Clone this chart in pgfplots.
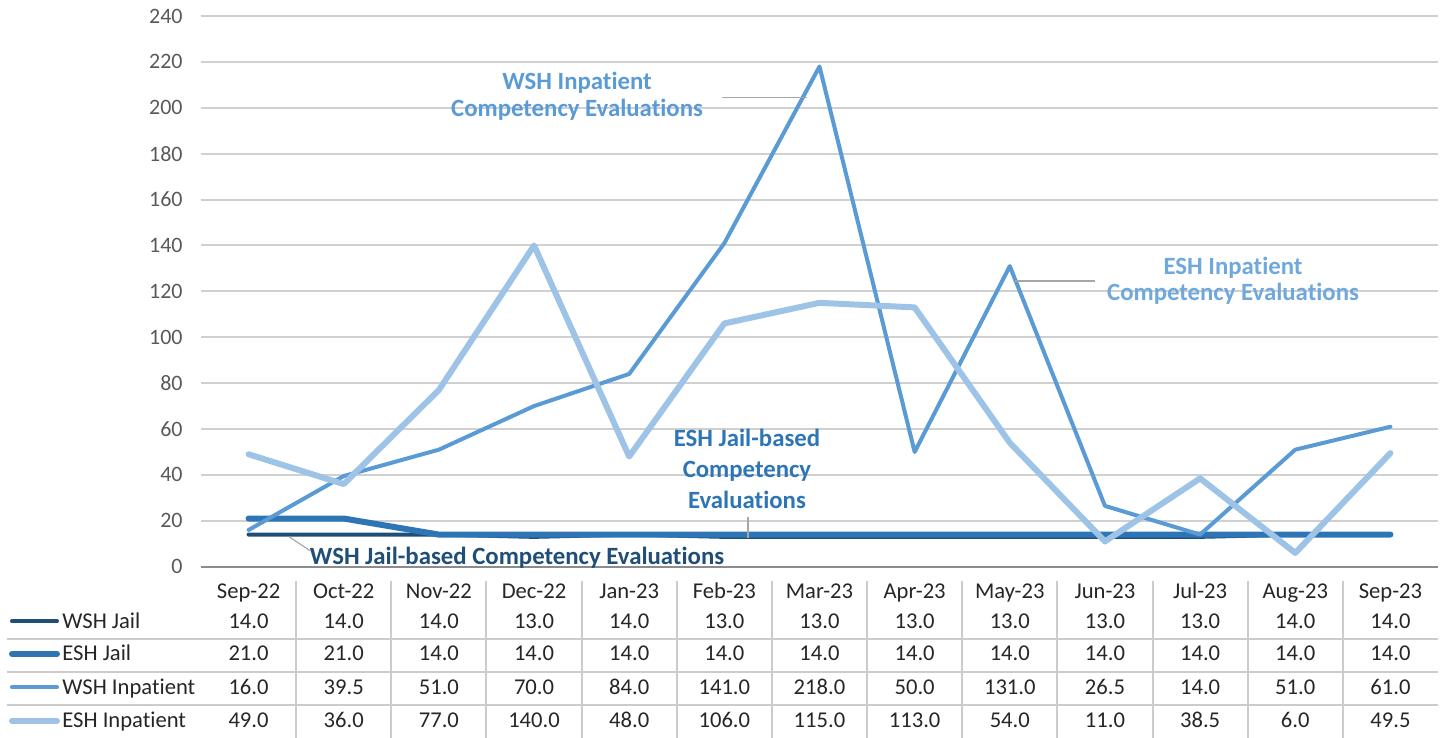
\documentclass[border=0pt]{standalone}
\usepackage{pgfplots}
\pgfplotsset{compat=1.18}
\usepackage{pgfplotstable}
\usepackage{fontspec}
\setmainfont{Carlito}[RawFeature={-liga;-clig;-calt;-dlig}]
\definecolor{wj}{HTML}{1F4E79}
\definecolor{ej}{HTML}{2E75B6}
\definecolor{wi}{HTML}{5B9BD5}
\definecolor{ei}{HTML}{9DC3E6}
\definecolor{eilab}{HTML}{6FA8DC}
\definecolor{gridc}{HTML}{D0D0D0}
\definecolor{tblc}{HTML}{CCCCCC}
\definecolor{tickc}{HTML}{595959}
\definecolor{leadc}{HTML}{A6A6A6}

\pgfplotstableread{
x m wj ej wi ei
0 Sep-22 14 21 16 49
1 Oct-22 14 21 39.5 36
2 Nov-22 14 14 51 77
3 Dec-22 13 14 70 140
4 Jan-23 14 14 84 48
5 Feb-23 13 14 141 106
6 Mar-23 13 14 218 115
7 Apr-23 13 14 50 113
8 May-23 13 14 131 54
9 Jun-23 13 14 26.5 11
10 Jul-23 13 14 14 38.5
11 Aug-23 14 14 51 6
12 Sep-23 14 14 61 49.5
}\data

\newcommand\fmt[1]{\pgfmathprintnumber[fixed,fixed zerofill,precision=1,assume math mode=true]{#1}}

\begin{document}
\begin{tikzpicture}
\begin{axis}[
  scale only axis, width=618.5pt, height=275.35pt,
  xmin=-0.5, xmax=12.5, ymin=0, ymax=240,
  ytick={0,20,...,240}, xtick=\empty,
  ymajorgrids, grid style={gridc, line width=1pt},
  axis x line=bottom, axis y line=left,
  y axis line style={draw=none},
  x axis line style={draw=black!45, line width=1pt, -},
  major tick length=0pt,
  /pgf/number format/assume math mode=true,
  yticklabel style={font=\fontsize{11}{13}\selectfont, text=tickc, anchor=east, inner sep=0pt, xshift=-9pt},
  clip=false,
  every axis plot/.append style={line join=round, line cap=round},
]
\addplot[wj, line width=2pt] table[x=x, y=wj] {\data};
\addplot[ej, line width=3pt] table[x=x, y=ej] {\data};
\addplot[wi, line width=2pt] table[x=x, y=wi] {\data};
\addplot[ei, line width=3pt] table[x=x, y=ei] {\data};

\coordinate (sw) at (rel axis cs:0,0);
\coordinate (ne) at (rel axis cs:1,1);

% leaders
\draw[leadc, line width=0.8pt] (axis cs:4.976,204.4) -- (axis cs:5.869,204.4);
\draw[leadc, line width=0.8pt] (axis cs:8.055,124.6) -- (axis cs:8.896,124.6);
\draw[leadc, line width=0.6pt] (axis cs:5.249,21.8) -- (axis cs:5.249,12.6);
\draw[leadc, line width=0.6pt] (axis cs:0.425,13.07) -- (axis cs:0.646,6.97);

% annotations
\node[wi, font=\bfseries\fontsize{12.4}{13.6}\selectfont, align=center] at (axis cs:3.452,205.0) {WSH Inpatient\\Competency Evaluations};
\node[eilab, font=\bfseries\fontsize{12.4}{13.2}\selectfont, align=center] at (axis cs:10.346,124.6) {ESH Inpatient\\Competency Evaluations};
\node[ej, font=\bfseries\fontsize{12.4}{15.5}\selectfont, align=center] at (axis cs:5.238,42.7) {ESH Jail-based\\Competency\\Evaluations};
\node[wj, font=\bfseries\fontsize{12.4}{13.6}\selectfont] at (axis cs:2.821,4.0) {WSH Jail-based Competency Evaluations};

% table grid
\pgfplotsinvokeforeach{36,52.5,69}{
  \draw[tblc, line width=1pt] ([xshift=-97pt,yshift=-#1pt]rel axis cs:0,0) -- ([yshift=-#1pt]rel axis cs:1,0);
}
\pgfplotsinvokeforeach{0.5,1.5,2.5,3.5,4.5,5.5,6.5,7.5,8.5,9.5,10.5,11.5}{
  \draw[tblc, line width=1pt] ([yshift=-7pt]axis cs:#1,0) -- ([yshift=-85.5pt]axis cs:#1,0);
}

% legend keys and row labels
\draw[wj, line width=2pt, line cap=round] ([xshift=-94.5pt,yshift=-27.3pt]rel axis cs:0,0) -- ([xshift=-72pt,yshift=-27.3pt]rel axis cs:0,0);
\draw[ej, line width=3pt, line cap=round] ([xshift=-94.5pt,yshift=-43.5pt]rel axis cs:0,0) -- ([xshift=-72pt,yshift=-43.5pt]rel axis cs:0,0);
\draw[wi, line width=2pt, line cap=round] ([xshift=-94.5pt,yshift=-60.3pt]rel axis cs:0,0) -- ([xshift=-72pt,yshift=-60.3pt]rel axis cs:0,0);
\draw[ei, line width=3pt, line cap=round] ([xshift=-94.5pt,yshift=-77pt]rel axis cs:0,0) -- ([xshift=-72pt,yshift=-77pt]rel axis cs:0,0);
\node[anchor=base west, inner sep=0pt, font=\fontsize{11.3}{13}\selectfont, text=black!85] at ([xshift=-69.5pt,yshift=-30.9pt]rel axis cs:0,0) {WSH Jail};
\node[anchor=base west, inner sep=0pt, font=\fontsize{11.3}{13}\selectfont, text=black!85] at ([xshift=-69.5pt,yshift=-47.1pt]rel axis cs:0,0) {ESH Jail};
\node[anchor=base west, inner sep=0pt, font=\fontsize{11.3}{13}\selectfont, text=black!85] at ([xshift=-69.5pt,yshift=-63.9pt]rel axis cs:0,0) {WSH Inpatient};
\node[anchor=base west, inner sep=0pt, font=\fontsize{11.3}{13}\selectfont, text=black!85] at ([xshift=-69.5pt,yshift=-80.6pt]rel axis cs:0,0) {ESH Inpatient};

\pgfplotsforeachungrouped \i in {0,...,12}{%
  \pgfplotstablegetelem{\i}{m}\of\data \let\mm\pgfplotsretval
  \pgfplotstablegetelem{\i}{wj}\of\data \let\va\pgfplotsretval
  \pgfplotstablegetelem{\i}{ej}\of\data \let\vb\pgfplotsretval
  \pgfplotstablegetelem{\i}{wi}\of\data \let\vc\pgfplotsretval
  \pgfplotstablegetelem{\i}{ei}\of\data \let\vd\pgfplotsretval
  \edef\tmp{%
    \noexpand\node[anchor=base, inner sep=0pt, font=\noexpand\fontsize{11.3}{13}\noexpand\selectfont, text=black!85] at ([yshift=-15.9pt]axis cs:\i,0) {\mm};
    \noexpand\node[anchor=base, inner sep=0pt, font=\noexpand\fontsize{11.3}{13}\noexpand\selectfont, text=black!85] at ([yshift=-30.9pt]axis cs:\i,0) {\noexpand\fmt{\va}};
    \noexpand\node[anchor=base, inner sep=0pt, font=\noexpand\fontsize{11.3}{13}\noexpand\selectfont, text=black!85] at ([yshift=-47.1pt]axis cs:\i,0) {\noexpand\fmt{\vb}};
    \noexpand\node[anchor=base, inner sep=0pt, font=\noexpand\fontsize{11.3}{13}\noexpand\selectfont, text=black!85] at ([yshift=-63.9pt]axis cs:\i,0) {\noexpand\fmt{\vc}};
    \noexpand\node[anchor=base, inner sep=0pt, font=\noexpand\fontsize{11.3}{13}\noexpand\selectfont, text=black!85] at ([yshift=-80.6pt]axis cs:\i,0) {\noexpand\fmt{\vd}};
  }\tmp
}
\end{axis}
\pgfresetboundingbox
\path[use as bounding box] ([shift={(-100.5pt,-85.5pt)}]sw) rectangle ([shift={(4pt,8pt)}]ne);
\end{tikzpicture}
\end{document}
